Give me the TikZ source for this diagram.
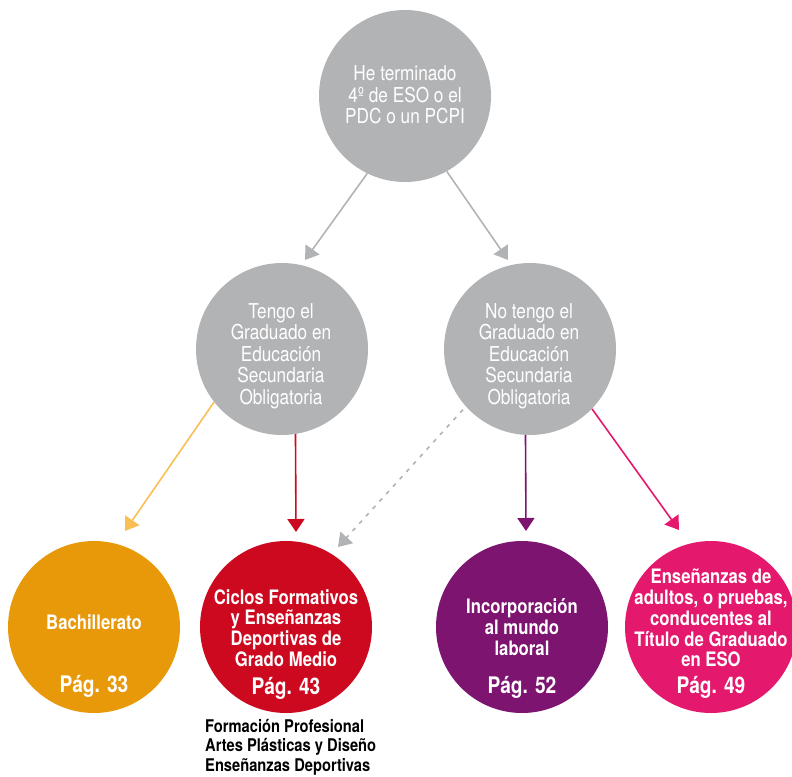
\documentclass[tikz,border=0pt]{standalone}
\usepackage{fontspec}
\setmainfont{TeX Gyre Heros}[FakeStretch=0.84]
\usetikzlibrary{arrows.meta}

\definecolor{circgray}{HTML}{B2B3B5}
\definecolor{bachorange}{HTML}{E8990A}
\definecolor{bachline}{HTML}{F9BF55}
\definecolor{cicred}{HTML}{CD0920}
\definecolor{labpurple}{HTML}{7D146F}
\definecolor{adupink}{HTML}{E4186C}

\tikzset{
  bigdot/.style={circle, minimum size=172pt, inner sep=0pt, draw=none},
  graytext/.style={text=white, align=center, inner sep=0pt, font=\fontsize{20.5}{21.5}\selectfont},
  bodytext/.style={text=white, align=center, inner sep=0pt, font=\bfseries\fontsize{19.9}{20.8}\selectfont},
  pagtext/.style={text=white, inner sep=0pt, font=\bfseries\fontsize{22.8}{24}\selectfont},
  link/.style={-{Triangle[length=13pt,width=17pt]}, line width=1.6pt},
}

\begin{document}
\begin{tikzpicture}[x=1pt,y=-1pt]
      \useasboundingbox (0,0) rectangle (792,776);

      % Add Circles
      \node[bigdot, fill=circgray] (top) at (405,96) {};
      \node[bigdot, fill=circgray] (midL) at (282,349) {};
      \node[bigdot, fill=circgray] (midR) at (530,349) {};
      \node[bigdot, fill=bachorange] (bach) at (94,627) {};
      \node[bigdot, fill=cicred] (cic) at (286,627) {};
      \node[bigdot, fill=labpurple] (lab) at (522,627) {};
      \node[bigdot, fill=adupink] (adu) at (711,627) {};

      % Add Texts
      \node[graytext] (toptxt) at (405,95) {He terminado\\4º de ESO o el\\PDC o un PCPI};
      \node[graytext] (midLtxt) at (281,356) {Tengo el\\Graduado en\\Educación\\Secundaria\\Obligatoria};
      \node[graytext] (midRtxt) at (529,356) {No tengo el\\Graduado en\\Educación\\Secundaria\\Obligatoria};
      \node[bodytext] (bachtxt) at (94,622) {Bachillerato};
      \node[bodytext] (cictxt) at (286,628) {Ciclos Formativos\\y Enseñanzas\\Deportivas de\\Grado Medio};
      \node[bodytext] (labtxt) at (522,627) {Incorporación\\al mundo\\laboral};
      \node[bodytext] (adutxt) at (711,618) {Enseñanzas de\\adultos, o pruebas,\\conducentes al\\Título de Graduado\\en ESO};
      \node[pagtext] (bachpag) at (94,686) {Pág. 33};
      \node[pagtext] (cicpag) at (286,688) {Pág. 43};
      \node[pagtext] (labpag) at (522,687) {Pág. 52};
      \node[pagtext] (adupag) at (711,687) {Pág. 49};
      \node[anchor=north west, align=left, inner sep=0pt,
            font=\bfseries\fontsize{17.5}{19.5}\selectfont] (cicnote) at (205,719)
            {Formación Profesional\\Artes Plásticas y Diseño\\Enseñanzas Deportivas};

      % Add Arrows
      \coordinate (tipA) at (305,260);
      \coordinate (tipB) at (508,260);
      \coordinate (tipC) at (125,531);
      \coordinate (tipD) at (296,532);
      \coordinate (tipE) at (338,547);
      \coordinate (tipF) at (526,531);
      \coordinate (tipG) at (679,530);
      \draw[link, circgray] (top.244) -- (tipA);
      \draw[link, circgray] (top.299) -- (tipB);
      \draw[link, bachline] (midL.218) -- (tipC);
      \draw[link, cicred] (midL.279) -- (tipD);
      \draw[link, circgray, dash pattern=on 4pt off 6pt] (midR.222) ++(-3,3) -- (tipE);
      \draw[link, labpurple] (midR.267) -- (tipF);
      \draw[link, adupink] (midR.316) -- (tipG);
    \end{tikzpicture}
\end{document}
